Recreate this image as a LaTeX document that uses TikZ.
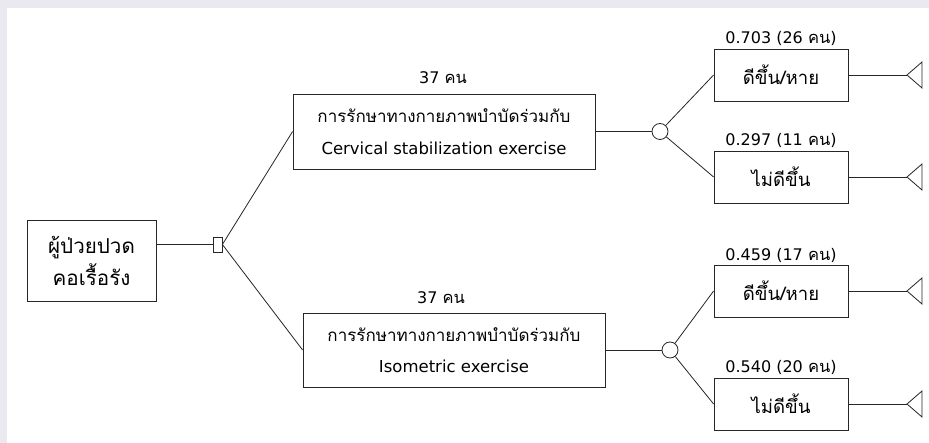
\documentclass[tikz,border=0pt]{standalone}
\usepackage{fontspec}
\setmainfont{DejaVu Sans}
\newfontfamily\thf[Script=Thai,Scale=1.03]{Loma}
\definecolor{frame}{HTML}{EAE9F0}
\tikzset{
  box/.style={draw=black!85, line width=0.8pt, fill=white, align=center, inner sep=0pt, font=\fontsize{16.5}{31.5}\selectfont},
  rootbox/.style={box, font=\fontsize{20}{32}\selectfont},
  outbox/.style={box, minimum width=134pt, minimum height=52pt, font=\fontsize{18}{22}\selectfont},
  lbl/.style={inner sep=0pt, font=\fontsize{16}{18}\selectfont},
  conn/.style={draw=black!85, line width=0.8pt},
  chance/.style={circle, draw=black!85, line width=0.8pt, fill=white, minimum size=16pt, inner sep=0pt},
  decsq/.style={rectangle, draw=black!85, line width=0.8pt, fill=white, minimum width=9pt, minimum height=15pt, inner sep=0pt},
}
\begin{document}
\begin{tikzpicture}[x=1pt, y=-1pt]
\fill[frame] (0,0) rectangle (929,443);
\fill[white] (7,8) rectangle (929,443);
\useasboundingbox (0,0) rectangle (929,443);

\node[rootbox, minimum width=129pt, minimum height=81pt] (root) at (91.5,260.5) {{\thf ผู้ป่วยปวด}\\{\thf คอเรื้อรัง}};
\node[decsq] (dec) at (217.5,244.5) {};

\node[box, minimum width=302pt, minimum height=75pt] (t1) at (444,131.5) {{\thf การรักษาทางกายภาพบำบัดร่วมกับ}\\Cervical stabilization exercise};
\node[box, minimum width=302pt, minimum height=74pt] (t2) at (454,350) {{\thf การรักษาทางกายภาพบำบัดร่วมกับ}\\Isometric exercise};
\node[lbl] (l1) at (443,78) {37 {\thf คน}};
\node[lbl] (l2) at (441,298) {37 {\thf คน}};

\node[chance] (c1) at (660,131.5) {};
\node[chance] (c2) at (670,350) {};

\node[outbox] (o1) at (781,75) {\thf ดีขึ้น/หาย};
\node[outbox] (o2) at (781,177) {\thf ไม่ดีขึ้น};
\node[outbox] (o3) at (781,291) {\thf ดีขึ้น/หาย};
\node[outbox] (o4) at (781,404) {\thf ไม่ดีขึ้น};

\node[lbl] (p1) at (781,38) {0.703 (26 {\thf คน})};
\node[lbl] (p2) at (781,140) {0.297 (11 {\thf คน})};
\node[lbl] (p3) at (781,255) {0.459 (17 {\thf คน})};
\node[lbl] (p4) at (781,367) {0.540 (20 {\thf คน})};

\coordinate (e1) at (907,75);
\coordinate (e2) at (907,177);
\coordinate (e3) at (907,291);
\coordinate (e4) at (907,404);

\draw[conn] (root.east |- dec.west) -- (dec.west);
\draw[conn] (dec.east) -- (t1.west);
\draw[conn] (dec.east) -- (t2.west);
\draw[conn] (t1.east) -- (c1);
\draw[conn] (t2.east) -- (c2);
\draw[conn] (c1) -- (o1.west);
\draw[conn] (c1) -- (o2.west);
\draw[conn] (c2) -- (o3.west);
\draw[conn] (c2) -- (o4.west);
\foreach \o/\e in {o1/e1,o2/e2,o3/e3,o4/e4}{
  \draw[conn] (\o.east) -- (\e);
  \draw[conn, line join=miter] (\e) -- ++(15,-13) -- ++(0,26) -- cycle;
}
\end{tikzpicture}
\end{document}
